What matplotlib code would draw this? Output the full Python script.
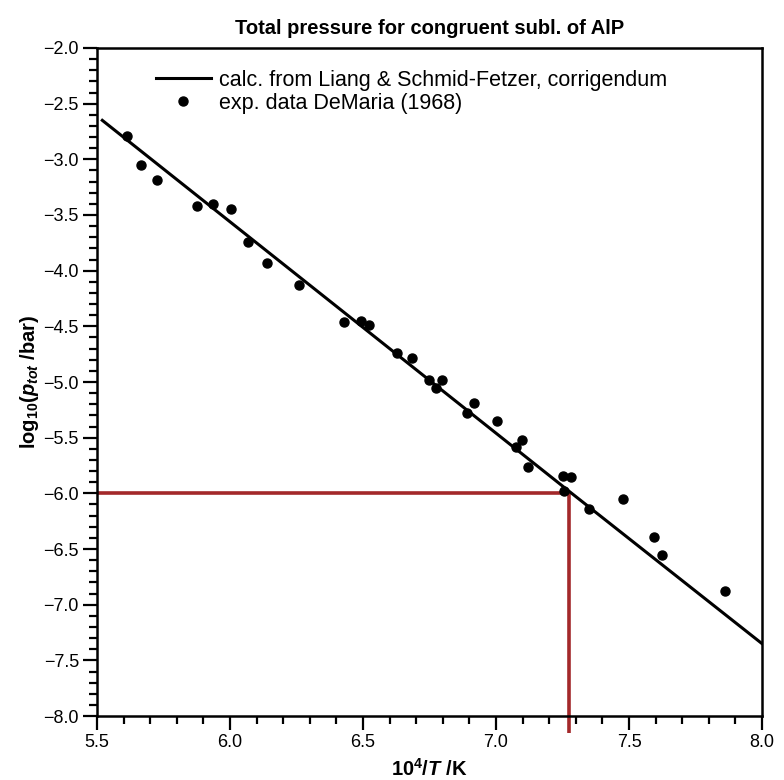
import matplotlib
matplotlib.use("Agg")
import matplotlib.pyplot as plt
from matplotlib.ticker import MultipleLocator

# calculated curve
calc_x = [5.52, 6.5, 7.274, 8.0]
calc_y = [-2.65, -4.51, -5.98, -7.35]

# experimental points, DeMaria (1968)
exp_x = [5.611, 5.665, 5.724, 5.877, 5.937, 6.003, 6.069, 6.138, 6.261,
         6.430, 6.491, 6.523, 6.629, 6.685, 6.748, 6.774, 6.796, 6.892,
         6.919, 7.005, 7.075, 7.099, 7.120, 7.250, 7.282, 7.256, 7.350,
         7.478, 7.595, 7.623, 7.862]
exp_y = [-2.79, -3.05, -3.19, -3.42, -3.40, -3.45, -3.74, -3.93, -4.13,
         -4.46, -4.45, -4.49, -4.74, -4.78, -4.98, -5.05, -4.98, -5.28,
         -5.19, -5.35, -5.58, -5.52, -5.76, -5.84, -5.85, -5.98, -6.14,
         -6.05, -6.39, -6.55, -6.88]

# marked point (p = 1e-6 bar)
mark_x = 7.274
mark_y = -6.0

plt.rcParams['font.family'] = ['Liberation Sans', 'DejaVu Sans']
plt.rcParams['mathtext.fontset'] = 'custom'
plt.rcParams['mathtext.rm'] = 'Liberation Sans:bold'
plt.rcParams['mathtext.it'] = 'Liberation Sans:bold:italic'
plt.rcParams['mathtext.bf'] = 'Liberation Sans:bold'

fig = plt.figure(figsize=(7.84, 7.80), dpi=100)
ax = fig.add_axes([0.1237, 0.082, 0.8483, 0.8565])

red = '#a3282a'
ax.plot([5.5, mark_x], [mark_y, mark_y], color=red, lw=2.6, solid_capstyle='butt', zorder=1)
ax.plot([mark_x, mark_x], [mark_y, -8.15], color=red, lw=2.6, solid_capstyle='butt',
        clip_on=False, zorder=1)

ax.plot(calc_x, calc_y, color='black', lw=2.2, label='calc. from Liang & Schmid-Fetzer, corrigendum', zorder=2)
ax.plot(exp_x, exp_y, 'o', color='black', ms=6.5, label='exp. data DeMaria (1968)', zorder=3)

ax.set_xlim(5.5, 8.0)
ax.set_ylim(-8.0, -2.0)
ax.xaxis.set_major_locator(MultipleLocator(0.5))
ax.xaxis.set_minor_locator(MultipleLocator(0.1))
ax.yaxis.set_major_locator(MultipleLocator(0.5))
ax.yaxis.set_minor_locator(MultipleLocator(0.1))
ax.tick_params(which='major', direction='out', length=10, width=1.6, labelsize=13, pad=3)
ax.tick_params(which='minor', direction='out', length=6, width=1.6)
for s in ax.spines.values():
    s.set_linewidth(1.8)

ax.set_title('Total pressure for congruent subl. of AlP', fontsize=14.5, fontweight='bold', pad=10)
ax.set_xlabel(r'10$^{4}$/$T$ /K', fontsize=14.5, fontweight='bold', labelpad=5)
ax.set_ylabel(r'log$_{10}$($p_{tot}$ /bar)', fontsize=14.5, fontweight='bold', labelpad=2)

ax.legend(loc='upper left', bbox_to_anchor=(0.066, 0.99), frameon=False, fontsize=15.5,
          handlelength=2.55, handletextpad=0.4, labelspacing=0.1, borderaxespad=0.3)

fig.savefig('out.png', dpi=100)
